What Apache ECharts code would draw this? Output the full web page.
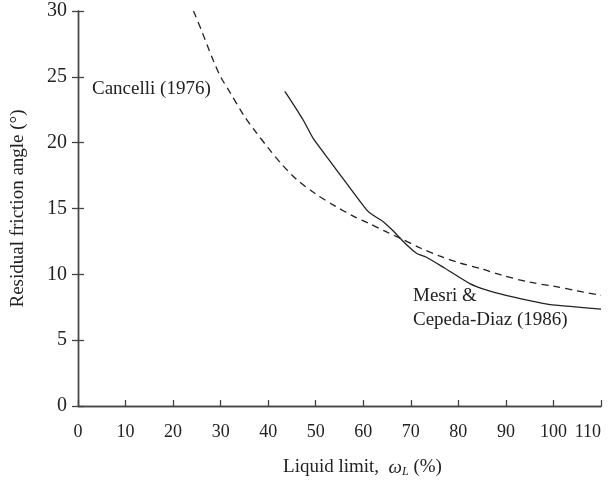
<!DOCTYPE html>
<html>
<head>
<meta charset="utf-8">
<script src="https://cdn.jsdelivr.net/npm/echarts@6/dist/echarts.min.js"></script>
<style>
  html, body { margin: 0; padding: 0; background: #fff; }
  #chart { width: 614px; height: 481px; }
</style>
</head>
<body>
<div id="chart"></div>
<script>
// Cancelli (1976) correlation: [liquid limit %, residual friction angle °]
const cancelli = [
  [24.3, 30.0], [26, 28.5], [28.5, 26.2], [30, 25.0], [32, 23.8], [35, 22.0],
  [37, 21.0], [40, 19.6], [43, 18.3], [46, 17.2], [50, 16.1], [54, 15.2],
  [58, 14.4], [61, 13.9], [65, 13.2], [68, 12.7], [72, 12.0], [76, 11.4],
  [80, 10.9], [85, 10.4], [89, 9.95], [95, 9.4], [100, 9.1], [105, 8.75], [110, 8.4]
];

// Mesri & Cepeda-Diaz (1986) relation
const mesri = [
  [43.5, 23.9], [45.5, 22.8], [47.4, 21.7], [49.5, 20.3], [53, 18.6], [56.5, 16.9],
  [60.7, 14.9], [62, 14.5], [64.2, 14.0], [66, 13.4], [68.4, 12.5], [71.2, 11.6],
  [73.3, 11.3], [77, 10.5], [82.4, 9.3], [86, 8.8], [90, 8.4], [95, 8.0],
  [99.3, 7.7], [104, 7.55], [110, 7.35]
];

const xTicks = [0, 10, 20, 30, 40, 50, 60, 70, 80, 90, 100, 110];
const yTicks = [0, 5, 10, 15, 20, 25, 30];

const FONT = '"Liberation Serif", "Times New Roman", serif';
const INK = '#222';
const AXIS = '#444';

const chart = echarts.init(document.getElementById('chart'));

const axisLine = { show: true, lineStyle: { color: AXIS, width: 1.4 } };
const innerTick = { show: true, inside: true, length: 6, lineStyle: { color: AXIS, width: 1.3 } };

chart.setOption({
  animation: false,
  backgroundColor: '#fff',
  grid: { left: 78, right: 13, top: 11, bottom: 75, containLabel: false, outerBoundsMode: 'none' },
  xAxis: [
    {
      type: 'value',
      min: xTicks[0], max: xTicks[xTicks.length - 1], interval: 10,
      axisLine: axisLine,
      axisTick: innerTick,
      axisLabel: { fontFamily: FONT, fontSize: 18, color: INK, margin: 17, alignMaxLabel: 'right' },
      splitLine: { show: false },
      name: '{n|Liquid limit,  }{i|ω}{s|L}{n| (%)}',
      nameLocation: 'middle',
      nameGap: 51,
      nameTextStyle: {
        padding: [0, 0, 0, 46],
        rich: {
          n: { fontFamily: FONT, fontSize: 19, color: INK },
          i: { fontFamily: FONT, fontSize: 19, color: INK, fontStyle: 'italic' },
          s: { fontFamily: FONT, fontSize: 12, color: INK, fontStyle: 'italic', padding: [9, 0, 0, 0] }
        }
      }
    },
    {
      type: 'value', position: 'top',
      min: xTicks[0], max: xTicks[xTicks.length - 1],
      axisLine: axisLine, axisTick: { show: false }, axisLabel: { show: false }, splitLine: { show: false }
    }
  ],
  yAxis: [
    {
      type: 'value',
      min: yTicks[0], max: yTicks[yTicks.length - 1], interval: 5,
      axisLine: axisLine,
      axisTick: innerTick,
      axisLabel: { fontFamily: FONT, fontSize: 20, color: INK, margin: 11 },
      splitLine: { show: false },
      name: 'Residual friction angle (°)',
      nameLocation: 'middle',
      nameGap: 50,
      nameTextStyle: { fontFamily: FONT, fontSize: 19, color: INK }
    },
    {
      type: 'value', position: 'right',
      min: yTicks[0], max: yTicks[yTicks.length - 1], interval: 5,
      axisLine: axisLine,
      axisTick: innerTick,
      axisLabel: { show: false }, splitLine: { show: false }
    }
  ],
  series: [
    {
      name: 'Cancelli (1976)',
      type: 'line',
      data: cancelli,
      showSymbol: false,
      smooth: 0.3,
      lineStyle: { color: INK, width: 1.3, type: [7, 5] }
    },
    {
      name: 'Mesri & Cepeda-Diaz (1986)',
      type: 'line',
      data: mesri,
      showSymbol: false,
      smooth: 0.2,
      lineStyle: { color: INK, width: 1.3, type: 'solid' }
    }
  ],
  graphic: [
    { type: 'text', left: 92, top: 80, style: { text: 'Cancelli (1976)', font: '19px ' + FONT, fill: INK } },
    { type: 'text', left: 413, top: 284, style: { text: 'Mesri &\nCepeda-Diaz (1986)', font: '19px ' + FONT, fill: INK, lineHeight: 24 } }
  ]
});
</script>
</body>
</html>
